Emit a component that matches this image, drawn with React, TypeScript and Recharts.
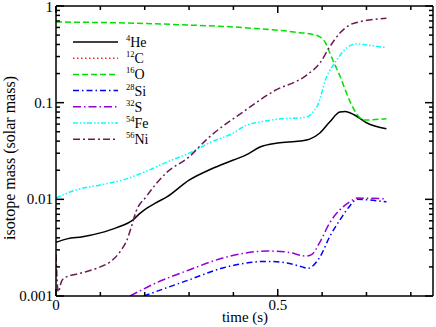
import { Legend, Line, LineChart, XAxis, YAxis } from "recharts";

const FONT = "Liberation Serif";

// time (s) and mass (solar mass) per isotope
const heTime = [0, 0.025, 0.06, 0.1, 0.137, 0.173, 0.19, 0.205, 0.225, 0.25, 0.3, 0.35, 0.4, 0.43, 0.46, 0.5, 0.55, 0.572, 0.595, 0.617, 0.64, 0.652, 0.673, 0.7, 0.745];
const heMass = [0.0036, 0.0039, 0.0041, 0.0045, 0.0051, 0.0061, 0.0072, 0.0081, 0.0092, 0.0106, 0.0158, 0.0206, 0.0255, 0.029, 0.0348, 0.0383, 0.0401, 0.042, 0.0486, 0.063, 0.08, 0.081, 0.0745, 0.062, 0.0536];

const cTime: number[] = [];
const cMass: number[] = [];

const oTime = [0, 0.1, 0.2, 0.3, 0.4, 0.45, 0.5, 0.55, 0.575, 0.595, 0.607, 0.617, 0.628, 0.64, 0.651, 0.662, 0.674, 0.685, 0.696, 0.72, 0.745];
const oMass = [0.683, 0.675, 0.66, 0.635, 0.607, 0.585, 0.562, 0.53, 0.513, 0.48, 0.42, 0.33, 0.25, 0.19, 0.14, 0.105, 0.082, 0.07, 0.066, 0.067, 0.068];

const siTime = [0.198, 0.248, 0.3, 0.376, 0.428, 0.475, 0.52, 0.555, 0.567, 0.595, 0.617, 0.64, 0.662, 0.678, 0.745];
const siMass = [0.001, 0.00121, 0.00147, 0.00195, 0.00219, 0.00228, 0.0022, 0.002, 0.00193, 0.00253, 0.0041, 0.0061, 0.0085, 0.01, 0.0094];

const sTime = [0.167, 0.225, 0.3, 0.376, 0.428, 0.475, 0.52, 0.565, 0.577, 0.595, 0.617, 0.64, 0.662, 0.678, 0.745];
const sMass = [0.001, 0.00136, 0.00186, 0.00247, 0.00279, 0.00292, 0.00285, 0.00259, 0.0027, 0.0036, 0.0057, 0.0078, 0.0094, 0.0103, 0.0101];

const feTime = [0, 0.045, 0.1, 0.15, 0.2, 0.25, 0.3, 0.35, 0.4, 0.43, 0.459, 0.505, 0.55, 0.565, 0.583, 0.588, 0.61, 0.633, 0.655, 0.678, 0.7, 0.745];
const feMass = [0.0103, 0.0125, 0.0141, 0.0158, 0.0192, 0.0243, 0.03, 0.0392, 0.0486, 0.0587, 0.063, 0.068, 0.0697, 0.071, 0.084, 0.09, 0.184, 0.276, 0.368, 0.405, 0.395, 0.37];

const niTime = [0, 0.005, 0.012, 0.02, 0.055, 0.1, 0.125, 0.145, 0.16, 0.17, 0.18, 0.203, 0.248, 0.3, 0.338, 0.428, 0.489, 0.565, 0.595, 0.617, 0.64, 0.662, 0.685, 0.745];
const niMass = [0.0027, 0.0011, 0.0014, 0.00155, 0.00172, 0.002, 0.0023, 0.0029, 0.0038, 0.0052, 0.0074, 0.0106, 0.0187, 0.0275, 0.041, 0.084, 0.13, 0.193, 0.257, 0.377, 0.525, 0.636, 0.688, 0.745];

const xTicks = [0, 0.1, 0.2, 0.3, 0.4, 0.5, 0.6, 0.7, 0.8];
const yTicks = [
  0.001, 0.002, 0.003, 0.004, 0.005, 0.006, 0.007, 0.008, 0.009,
  0.01, 0.02, 0.03, 0.04, 0.05, 0.06, 0.07, 0.08, 0.09,
  0.1, 0.2, 0.3, 0.4, 0.5, 0.6, 0.7, 0.8, 0.9, 1,
];

function toPoints(time: number[], mass: number[]) {
  return time.map((t, i) => ({ t, m: mass[i] }));
}

const series = [
  { key: "he", sup: "4", name: "He", color: "#000000", dash: undefined, data: toPoints(heTime, heMass) },
  { key: "c", sup: "12", name: "C", color: "#ff2020", dash: "1.5 2.5", data: toPoints(cTime, cMass) },
  { key: "o", sup: "16", name: "O", color: "#00e000", dash: "6 3", data: toPoints(oTime, oMass) },
  { key: "si", sup: "28", name: "Si", color: "#0000ff", dash: "6 3 1.5 3", data: toPoints(siTime, siMass) },
  { key: "s", sup: "32", name: "S", color: "#9400d3", dash: "8 3 1.5 3", data: toPoints(sTime, sMass) },
  { key: "fe", sup: "54", name: "Fe", color: "#00ffff", dash: "5 2 1.5 2 1.5 2", data: toPoints(feTime, feMass) },
  { key: "ni", sup: "56", name: "Ni", color: "#6d1a55", dash: "7 3 2 3", data: toPoints(niTime, niMass) },
];

const isDecade = (v: number) => Math.abs(Math.log10(v) - Math.round(Math.log10(v))) < 1e-6;
const isHalf = (v: number) => Math.abs(v * 2 - Math.round(v * 2)) < 1e-6;

const textStyle = { fontFamily: FONT };

function BottomTick({ x, y, payload }: any) {
  const major = isHalf(payload.value);
  return (
    <g>
      <line x1={x} x2={x} y1={y} y2={y - (major ? 7 : 4)} stroke="#000" strokeWidth={1.5} />
      {major && (
        <text x={x} y={y + 14} textAnchor="middle" fontSize={15} style={textStyle} fill="#000">
          {String(payload.value)}
        </text>
      )}
    </g>
  );
}

function TopTick({ x, y, payload }: any) {
  const major = isHalf(payload.value);
  return <line x1={x} x2={x} y1={y} y2={y + (major ? 7 : 4)} stroke="#000" strokeWidth={1.5} />;
}

function LeftTick({ x, y, payload }: any) {
  const major = isDecade(payload.value);
  return (
    <g>
      <line x1={x} x2={x + (major ? 8 : 4)} y1={y} y2={y} stroke="#000" strokeWidth={1.5} />
      {major && (
        <text x={x - 3} y={Math.max(y + 5, 12)} textAnchor="end" fontSize={15} style={textStyle} fill="#000">
          {String(payload.value)}
        </text>
      )}
    </g>
  );
}

function RightTick({ x, y, payload }: any) {
  const major = isDecade(payload.value);
  return <line x1={x} x2={x - (major ? 8 : 4)} y1={y} y2={y} stroke="#000" strokeWidth={1.5} />;
}

function IsotopeLegend() {
  return (
    <svg width={110} height={120}>
      {series.map((s, i) => {
        const y = 10 + i * 16.2;
        return (
          <g key={s.key}>
            <line x1={7} x2={52} y1={y} y2={y} stroke={s.color} strokeWidth={1.5} strokeDasharray={s.dash} />
            <text x={60} y={y + 5} style={textStyle} fill="#000">
              <tspan fontSize={8.5} dy={-6}>{s.sup}</tspan>
              <tspan fontSize={14} dy={6}>{s.name}</tspan>
            </text>
          </g>
        );
      })}
    </svg>
  );
}

export default function App() {
  return (
    <div style={{ position: "absolute", left: 0, top: 0, width: 436, height: 327, background: "#fff" }}>
      <LineChart width={436} height={327} margin={{ top: 0, right: 0, bottom: 0, left: 0 }}>
        <XAxis
          xAxisId="bottom"
          dataKey="t"
          type="number"
          domain={[0, 0.85]}
          ticks={xTicks}
          interval={0}
          height={31}
          tickSize={0}
          tickMargin={0}
          tickLine={false}
          tick={(p: any) => <BottomTick {...p} />}
          axisLine={{ stroke: "#000", strokeWidth: 1.5 }}
          allowDataOverflow
          label={() => (
            <text x={245} y={322} textAnchor="middle" fontSize={15} style={textStyle} fill="#000">
              time (s)
            </text>
          )}
        />
        <XAxis
          xAxisId="top"
          orientation="top"
          dataKey="t"
          type="number"
          domain={[0, 0.85]}
          ticks={xTicks}
          interval={0}
          height={6}
          tickSize={0}
          tickMargin={0}
          tickLine={false}
          tick={(p: any) => <TopTick {...p} />}
          axisLine={{ stroke: "#000", strokeWidth: 1.5 }}
          allowDataOverflow
        />
        <YAxis
          yAxisId="left"
          type="number"
          scale="log"
          domain={[0.001, 1]}
          ticks={yTicks}
          interval={0}
          width={56}
          tickSize={0}
          tickMargin={0}
          tickLine={false}
          tick={(p: any) => <LeftTick {...p} />}
          axisLine={{ stroke: "#000", strokeWidth: 1.5 }}
          allowDataOverflow
          label={() => (
            <text
              x={15}
              y={158}
              transform="rotate(-90 15 158)"
              textAnchor="middle"
              fontSize={16}
              style={textStyle}
              fill="#000"
            >
              isotope mass (solar mass)
            </text>
          )}
        />
        <YAxis
          yAxisId="right"
          orientation="right"
          type="number"
          scale="log"
          domain={[0.001, 1]}
          ticks={yTicks}
          interval={0}
          width={3}
          tickSize={0}
          tickMargin={0}
          tickLine={false}
          tick={(p: any) => <RightTick {...p} />}
          axisLine={{ stroke: "#000", strokeWidth: 1.5 }}
          allowDataOverflow
        />
        <Legend
          layout="horizontal"
          verticalAlign="middle"
          align="center"
          wrapperStyle={{ left: 66, top: 32, width: 110, height: 120 }}
          content={() => <IsotopeLegend />}
        />
        {series.map((s) => (
          <Line
            key={s.key}
            xAxisId="bottom"
            yAxisId="left"
            data={s.data}
            dataKey="m"
            type="monotone"
            stroke={s.color}
            strokeWidth={1.5}
            strokeDasharray={s.dash}
            dot={false}
            activeDot={false}
            isAnimationActive={false}
          />
        ))}
      </LineChart>
    </div>
  );
}
